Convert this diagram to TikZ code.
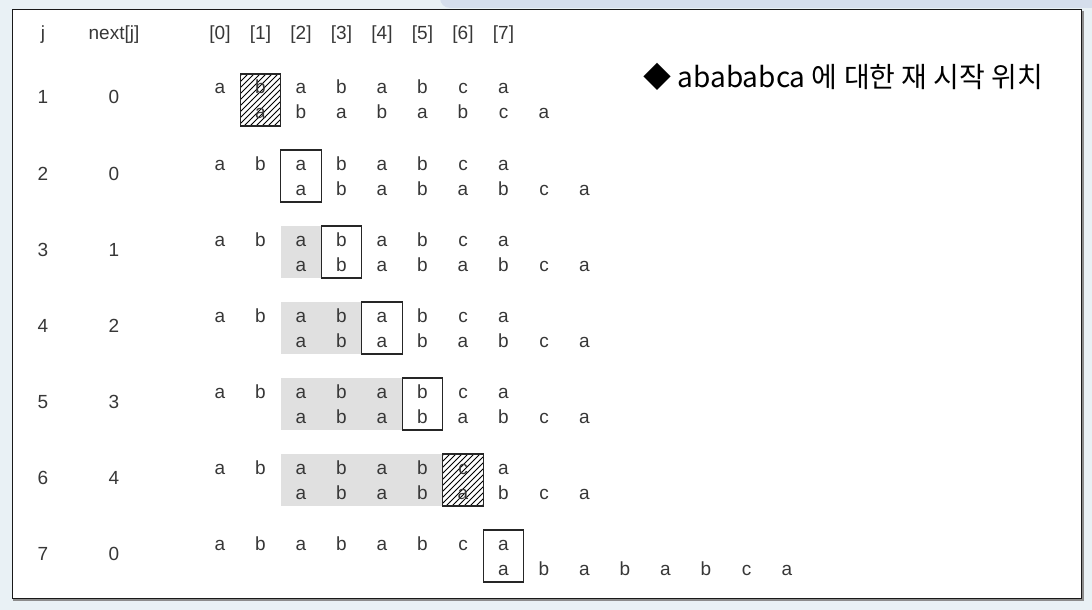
\documentclass[tikz,border=0pt]{standalone}
\usepackage{fontspec}
\setmainfont{Liberation Sans}
\newfontfamily\krfont{Noto Sans CJK KR}
\usetikzlibrary{patterns}
\definecolor{fond}{RGB}{233,241,245}
\definecolor{onglet}{RGB}{213,222,236}
\definecolor{grise}{RGB}{224,224,224}
\definecolor{encre}{RGB}{55,55,55}

\begin{document}
\begin{tikzpicture}[x=0.5pt,y=-0.5pt,
		lettre/.style={anchor=base,inner sep=0pt,font=\fontsize{9.5}{9.5}\selectfont,text=encre},
		case/.style={draw=black!85,line width=0.6pt},
		hachure/.style={case,pattern=north east lines}]

			% fond
			\useasboundingbox (0,0) rectangle (1092,610);
			\fill[fond] (0,0) rectangle (1092,610);
			\fill[onglet,rounded corners=5pt] (440,-12) rectangle (1104,8);

			% cadre
			\fill[white] (12,10) rectangle (1081,598);
			\draw[black!45,line width=1pt] (1082.5,11) -- (1082.5,599.5) -- (13,599.5);
			\draw[black!90,line width=0.5pt] (12,10) rectangle (1081,598);

			% titre
			\node[anchor=west,inner sep=0pt,font=\krfont\fontsize{14}{14}\selectfont] (titre) at (643,77) {◆ abababca 에 대한 재 시작 위치};

			% entete
			\node[lettre] (hj) at (43,40) {j};
			\node[lettre] (hnext) at (114,40) {next[j]};
			\foreach \k in {0,...,7}
				\node[lettre] (h\k) at ({220+40.5*\k},40) {[\k]};

			% lignes
			\foreach \j/\nx/\marque in {1/0/hachure,2/0/case,3/1/case,4/2/case,5/3/case,6/4/hachure,7/0/case} {
				\pgfmathsetmacro{\ym}{100+76*(\j-1)}
				\pgfmathtruncatemacro{\off}{\j-\nx}

				\ifnum\nx>0
					\fill[grise] ({199.75+40.5*\off},\ym-26) rectangle ({199.75+40.5*\j},\ym+26);
				\fi
				\draw[\marque] ({199.75+40.5*\j},\ym-26) rectangle ({240.25+40.5*\j},\ym+26);

				\node[lettre] (j\j) at (43,\ym+4) {\j};
				\node[lettre] (n\j) at (114,\ym+4) {\nx};
				\foreach \c [count=\k from 0] in {a,b,a,b,a,b,c,a} {
					\node[lettre] (t\j-\k) at ({220+40.5*\k},\ym-6) {\c};
					\node[lettre] (b\j-\k) at ({220+40.5*(\k+\off)},\ym+19) {\c};
				}
			}
		\end{tikzpicture}
\end{document}
